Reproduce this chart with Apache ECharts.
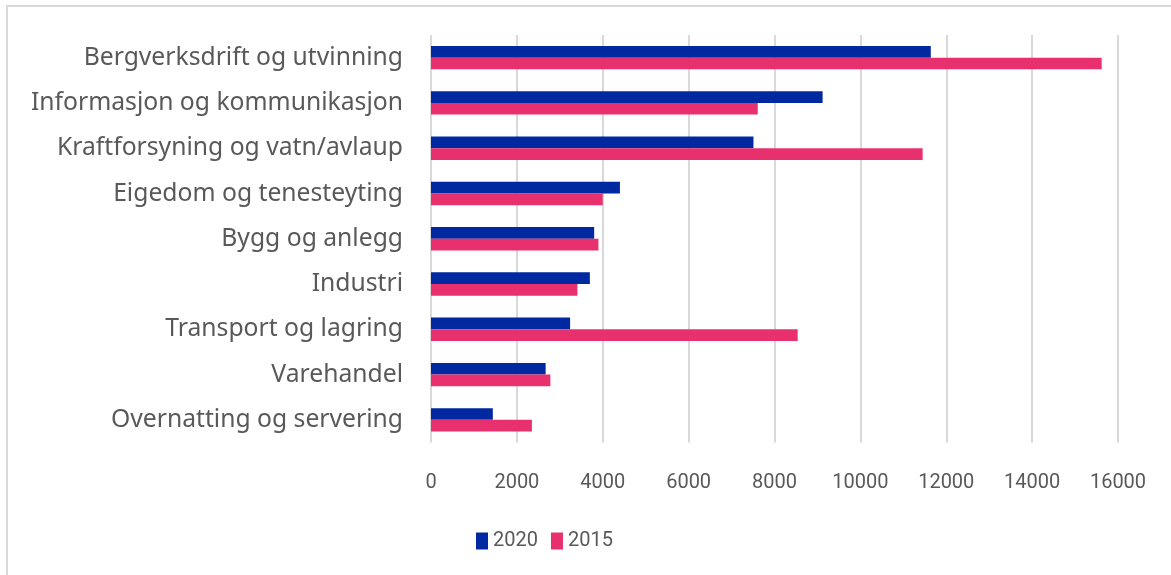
<!DOCTYPE html>
<html>
<head>
<meta charset="utf-8">
<script src="https://cdn.jsdelivr.net/npm/echarts@6/dist/echarts.min.js"></script>
<style>
    html, body {
        margin: 0;
        padding: 0;
        background: #ffffff;
    }
    .frame {
        position: absolute;
        left: 6px;
        top: 5px;
        width: 1180px;
        height: 600px;
        border: 2px solid #d9d9d9;
        box-sizing: border-box;
    }
    #chart {
        position: absolute;
        left: 0;
        top: 0;
        width: 1171px;
        height: 575px;
    }
</style>
</head>
<body>
<div class="frame"></div>
<div id="chart"></div>
<script>
// næringar, ovanfrå og ned
var categories = [
    'Bergverksdrift og utvinning',
    'Informasjon og kommunikasjon',
    'Kraftforsyning og vatn/avlaup',
    'Eigedom og tenesteyting',
    'Bygg og anlegg',
    'Industri',
    'Transport og lagring',
    'Varehandel',
    'Overnatting og servering'
];
var values2020 = [11640, 9120, 7510, 4400, 3800, 3700, 3240, 2670, 1440];
var values2015 = [15620, 7610, 11450, 4000, 3900, 3410, 8540, 2780, 2350];
var xTicks = { min: 0, max: 16000, interval: 2000 };

var myChart = echarts.init(document.getElementById('chart'));
var option;

var labelFont = "'Noto Sans', sans-serif";
var numFont = "'Roboto', sans-serif";

// storleik på kategoritekst slik at første etikett blir ca. 319px brei
var ctx = document.createElement('canvas').getContext('2d');
ctx.font = "100px " + labelFont;
var labelSize = Math.round(100 * 319 / ctx.measureText(categories[0]).width * 10) / 10;
labelSize = Math.min(Math.max(labelSize, 19), 25);

option = {
    backgroundColor: 'transparent',
    animation: false,
    legend: {
        left: 471,
        top: 526,
        itemWidth: 12,
        itemHeight: 17,
        itemGap: 13,
        icon: 'rect',
        textStyle: {
            color: '#595959',
            fontSize: 20,
            fontFamily: numFont
        },
        data: ['2020', '2015']
    },
    grid: {
        left: 431,
        right: 53,
        top: 35,
        bottom: 132.5,
        containLabel: false
    },
    xAxis: {
        type: 'value',
        min: xTicks.min,
        max: xTicks.max,
        interval: xTicks.interval,
        axisLine: { show: false },
        axisTick: { show: false },
        splitLine: {
            lineStyle: {
                color: '#d9d9d9',
                width: 2
            }
        },
        axisLabel: {
            color: '#595959',
            fontSize: 20,
            fontFamily: numFont,
            margin: 30,
            formatter: function (v) {
                return String(v);
            }
        }
    },
    yAxis: {
        type: 'category',
        inverse: true,
        data: categories,
        axisLine: { show: false },
        axisTick: { show: false },
        axisLabel: {
            color: '#595959',
            fontSize: labelSize,
            fontFamily: labelFont,
            margin: 28
        }
    },
    series: [
        {
            name: '2020',
            type: 'bar',
            barWidth: 11.7,
            barGap: '0%',
            itemStyle: { color: '#0028a0' },
            data: values2020
        },
        {
            name: '2015',
            type: 'bar',
            barWidth: 11.7,
            barGap: '0%',
            itemStyle: { color: '#e8306f' },
            data: values2015
        }
    ]
};

option && myChart.setOption(option);
</script>
</body>
</html>
